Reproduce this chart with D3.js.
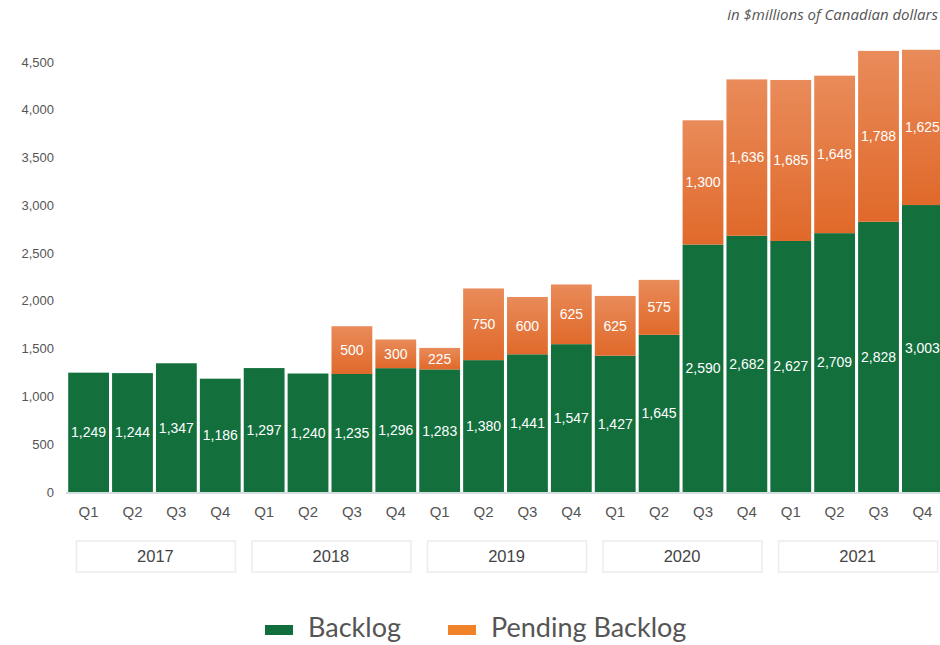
<!DOCTYPE html>
<html>
<head>
<meta charset="utf-8">
<script src="https://cdn.jsdelivr.net/npm/d3@7"></script>
<style>
  body { margin: 0; background: #fff; }
  svg { display: block; }
</style>
</head>
<body>
<div id="chart"></div>
<script>
// chart data
const years = ["2017", "2018", "2019", "2020", "2021"];
const quarters = ["Q1", "Q2", "Q3", "Q4"];
const backlog = [1249, 1244, 1347, 1186, 1297, 1240, 1235, 1296, 1283, 1380, 1441, 1547, 1427, 1645, 2590, 2682, 2627, 2709, 2828, 3003];
const pending = [0, 0, 0, 0, 0, 0, 500, 300, 225, 750, 600, 625, 625, 575, 1300, 1636, 1685, 1648, 1788, 1625];
const yTicks = [0, 500, 1000, 1500, 2000, 2500, 3000, 3500, 4000, 4500];

const width = 940;
const height = 645;

const svg = d3.select("#chart")
    .append("svg")
    .attr("width", width)
    .attr("height", height);

// gradient for the pending bars
const defs = svg.append("defs");
const grad = defs.append("linearGradient")
    .attr("id", "pendGrad")
    .attr("x1", 0).attr("y1", 0).attr("x2", 0).attr("y2", 1);
grad.append("stop").attr("offset", "0%").attr("stop-color", "#e98b5a");
grad.append("stop").attr("offset", "100%").attr("stop-color", "#e0692a");

// periods as "year-quarter" keys
const periods = [];
years.forEach(y => quarters.forEach(q => periods.push(y + "-" + q)));

const x = d3.scaleBand()
    .domain(periods)
    .range([66, 945])
    .paddingInner(0.07)
    .paddingOuter(0.05);

const y = d3.scaleLinear()
    .domain([0, 4500])
    .range([492, 62]);

const fmt = d3.format(",");
const sans = "'Liberation Sans', Arial, sans-serif";

// y axis labels
svg.append("g")
    .selectAll("text")
    .data(yTicks)
    .enter().append("text")
    .attr("x", 54)
    .attr("y", d => y(d))
    .attr("dy", "0.35em")
    .attr("text-anchor", "end")
    .style("font-family", sans)
    .style("font-size", "13px")
    .style("fill", "#555")
    .text(d => fmt(d));

// baseline
svg.append("line")
    .attr("x1", 66).attr("x2", 945)
    .attr("y1", y(0) + 1).attr("y2", y(0) + 1)
    .style("stroke", "#d4dde0")
    .style("stroke-width", 2);

const rows = periods.map((p, i) => ({ p: p, b: backlog[i], pe: pending[i] }));

// backlog bars
svg.append("g")
    .selectAll("rect")
    .data(rows)
    .enter().append("rect")
    .attr("x", d => x(d.p))
    .attr("width", x.bandwidth())
    .attr("y", d => y(d.b))
    .attr("height", d => y(0) - y(d.b))
    .style("fill", "#13703d");

// pending bars stacked on top
svg.append("g")
    .selectAll("rect")
    .data(rows.filter(d => d.pe > 0))
    .enter().append("rect")
    .attr("x", d => x(d.p))
    .attr("width", x.bandwidth())
    .attr("y", d => y(d.b + d.pe))
    .attr("height", d => y(d.b) - y(d.b + d.pe))
    .style("fill", "url(#pendGrad)");

const labelStyle = sel => sel
    .attr("text-anchor", "middle")
    .attr("dy", "0.35em")
    .style("font-family", sans)
    .style("font-size", "14px")
    .style("fill", "#fff");

svg.append("g")
    .selectAll("text")
    .data(rows)
    .enter().append("text")
    .attr("x", d => x(d.p) + x.bandwidth() / 2)
    .attr("y", d => y(d.b / 2))
    .call(labelStyle)
    .text(d => fmt(d.b));

svg.append("g")
    .selectAll("text")
    .data(rows.filter(d => d.pe > 0))
    .enter().append("text")
    .attr("x", d => x(d.p) + x.bandwidth() / 2)
    .attr("y", d => y(d.b + d.pe / 2))
    .call(labelStyle)
    .text(d => fmt(d.pe));

// quarter labels
svg.append("g")
    .selectAll("text")
    .data(periods)
    .enter().append("text")
    .attr("x", d => x(d) + x.bandwidth() / 2)
    .attr("y", 512)
    .attr("dy", "0.35em")
    .attr("text-anchor", "middle")
    .style("font-family", sans)
    .style("font-size", "15px")
    .style("fill", "#555")
    .text(d => d.split("-")[1]);

// year boxes
const yearMid = d => (x(d + "-Q1") + x(d + "-Q4") + x.bandwidth()) / 2;
const yearG = svg.append("g")
    .selectAll("g")
    .data(years)
    .enter().append("g");

yearG.append("rect")
    .attr("x", d => yearMid(d) - 78)
    .attr("width", 159)
    .attr("y", 541)
    .attr("height", 31)
    .style("fill", "#fff")
    .style("stroke", "#ececec")
    .style("stroke-width", 1.5);

yearG.append("text")
    .attr("x", d => yearMid(d) + 1)
    .attr("y", 556)
    .attr("dy", "0.35em")
    .attr("text-anchor", "middle")
    .style("font-family", sans)
    .style("font-size", "16.5px")
    .style("fill", "#444")
    .text(d => d);

// subtitle
svg.append("text")
    .attr("x", 938)
    .attr("y", 20)
    .attr("text-anchor", "end")
    .style("font-family", "'Open Sans', sans-serif")
    .style("font-style", "italic")
    .style("font-size", "15px")
    .style("fill", "#555")
    .text("in $millions of Canadian dollars");

// legend
const legend = [
    { name: "Backlog", color: "#0f6e3b", x: 265 },
    { name: "Pending Backlog", color: "#f08229", x: 448 }
];
const lg = svg.append("g")
    .selectAll("g")
    .data(legend)
    .enter().append("g");
lg.append("rect")
    .attr("x", d => d.x)
    .attr("y", 625)
    .attr("width", 28)
    .attr("height", 10)
    .style("fill", d => d.color);
lg.append("text")
    .attr("x", d => d.x + 43)
    .attr("y", 628)
    .attr("dy", "0.35em")
    .style("font-family", "Lato, sans-serif")
    .style("font-size", "27px")
    .style("fill", "#555")
    .text(d => d.name);
</script>
</body>
</html>
